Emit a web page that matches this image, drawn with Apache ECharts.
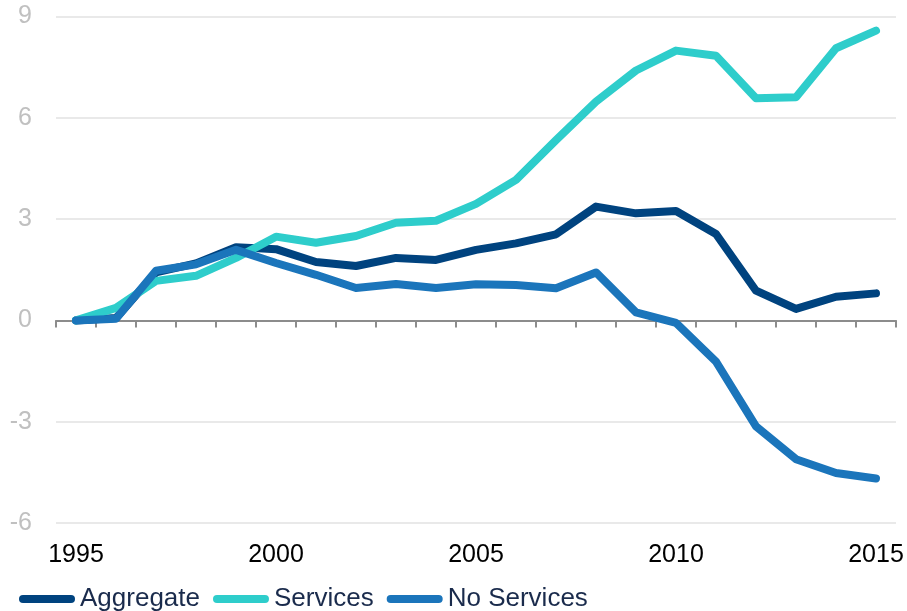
<!DOCTYPE html>
<html>
<head>
<meta charset="utf-8">
<script src="https://cdn.jsdelivr.net/npm/echarts@6/dist/echarts.min.js"></script>
<style>
  html, body { margin: 0; padding: 0; background: #ffffff; }
  #chart { width: 907px; height: 611px; }
</style>
</head>
<body>
<div id="chart"></div>
<script>
// years on the x axis
const years = ['1995', '1996', '1997', '1998', '1999', '2000', '2001', '2002', '2003', '2004',
  '2005', '2006', '2007', '2008', '2009', '2010', '2011', '2012', '2013', '2014', '2015'];

// values
const aggregate = [0, 0.07, 1.42, 1.69, 2.17, 2.11, 1.73, 1.61, 1.85, 1.79,
  2.09, 2.28, 2.55, 3.37, 3.17, 3.24, 2.56, 0.88, 0.34, 0.70, 0.80];
const services = [0, 0.37, 1.17, 1.32, 1.85, 2.48, 2.30, 2.50, 2.89, 2.95,
  3.45, 4.16, 5.34, 6.48, 7.40, 7.99, 7.84, 6.58, 6.61, 8.06, 8.58];
const noServices = [0, 0.05, 1.47, 1.66, 2.09, 1.70, 1.35, 0.96, 1.08, 0.96,
  1.07, 1.05, 0.95, 1.42, 0.24, -0.07, -1.22, -3.14, -4.11, -4.52, -4.68];

const seriesNames = ['Aggregate', 'Services', 'No Services'];
const colors = ['#00437f', '#2ecdcb', '#1b75bb'];

const chart = echarts.init(document.getElementById('chart'));

// pill shaped legend icon
const pill = 'path://M4,0 H52 A4,4 0 0 1 52,8 H4 A4,4 0 0 1 4,0 Z';

function makeLine(name, data, color) {
  return {
    name: name,
    type: 'line',
    data: data,
    xAxisIndex: 0,
    symbol: 'none',
    color: color,
    lineStyle: { width: 8, color: color, cap: 'round', join: 'round' }
  };
}

const option = {
  animation: false,
  grid: { left: 56, right: 11, top: 16.5, bottom: 88, containLabel: false },
  legend: {
    left: 19,
    top: 586,
    padding: 0,
    itemWidth: 56,
    itemHeight: 8,
    itemGap: 13,
    icon: pill,
    textStyle: { color: '#1a2b4c', fontSize: 26, fontFamily: 'Liberation Sans, Arial, sans-serif' },
    data: seriesNames
  },
  xAxis: [
    {
      // labels at the bottom
      type: 'category',
      data: years,
      position: 'bottom',
      boundaryGap: true,
      axisLine: { show: false, onZero: false },
      axisTick: { show: false },
      axisLabel: {
        interval: 4,
        margin: 20,
        color: '#000000',
        fontSize: 25,
        fontFamily: 'Liberation Sans, Arial, sans-serif'
      },
      splitLine: { show: false }
    },
    {
      // line and ticks at zero
      type: 'category',
      data: years,
      position: 'bottom',
      boundaryGap: true,
      axisLine: { show: true, onZero: true, lineStyle: { color: '#8c8c8c', width: 2 } },
      axisTick: { show: true, interval: 0, length: 7, lineStyle: { color: '#8c8c8c', width: 2 } },
      axisLabel: { show: false },
      splitLine: { show: false }
    }
  ],
  yAxis: {
    type: 'value',
    min: -6,
    max: 9,
    interval: 3,
    axisLine: { show: false },
    axisTick: { show: false },
    axisLabel: {
      margin: 24,
      color: '#c0c0c0',
      fontSize: 25,
      fontFamily: 'Liberation Sans, Arial, sans-serif'
    },
    splitLine: { show: true, lineStyle: { color: '#e2e2e2', width: 1.5 } }
  },
  series: [
    makeLine(seriesNames[0], aggregate, colors[0]),
    makeLine(seriesNames[1], services, colors[1]),
    makeLine(seriesNames[2], noServices, colors[2])
  ]
};

chart.setOption(option);
</script>
</body>
</html>
